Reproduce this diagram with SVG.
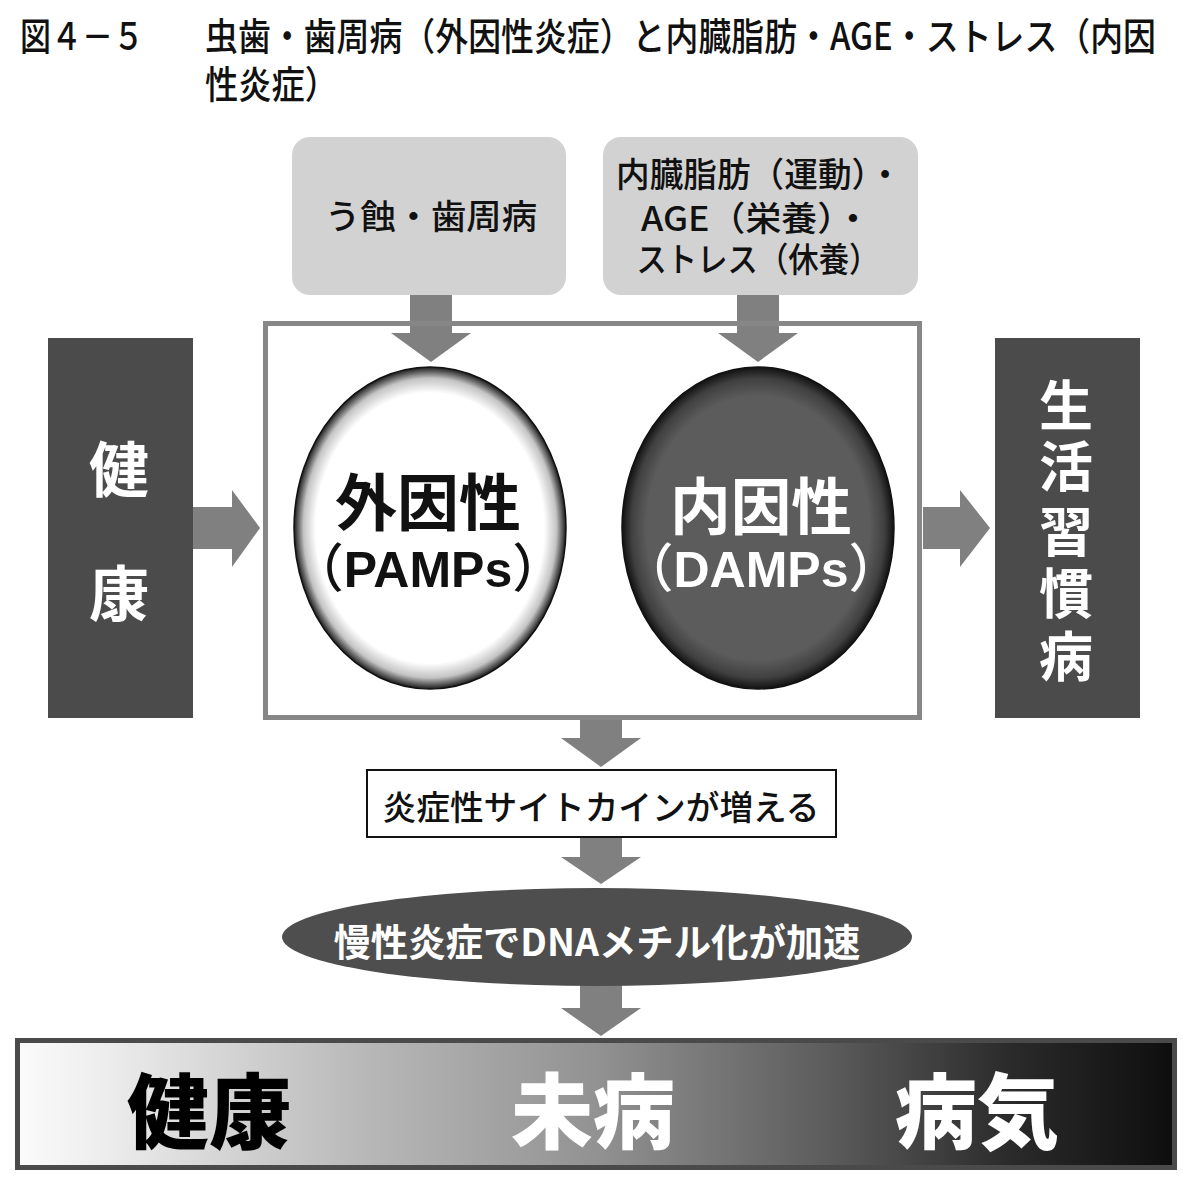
<svg xmlns="http://www.w3.org/2000/svg" width="1192" height="1186" viewBox="0 0 1192 1186">
  <defs>
    <style>
      text { font-family: "Noto Sans CJK JP", "Noto Sans", sans-serif; }
      .title { font-size: 38px; font-weight: 500; fill: #111; }
      .src { font-size: 34px; font-weight: 500; fill: #111; text-anchor: middle; }
      .src-box { fill: #d2d2d2; }
      .arrow { fill: #808080; }
      .side { fill: #4b4b4b; }
      .side-text { font-size: 60px; font-weight: 700; fill: #fff; text-anchor: middle; dominant-baseline: central; }
      .side-text.tall { font-size: 54px; }
      .frame { fill: none; stroke: #878787; stroke-width: 5; }
      .egg-big { font-size: 62px; font-weight: 700; text-anchor: middle; dominant-baseline: central; }
      .egg-sub { font-size: 52px; font-weight: 500; text-anchor: middle; }
      .latin { font-family: "Liberation Sans", Arial, sans-serif; font-weight: 700; font-size: 50px; }
      .step { font-size: 34px; font-weight: 500; fill: #111; text-anchor: middle; dominant-baseline: central; }
      .stage { font-size: 82px; font-weight: 900; text-anchor: middle; dominant-baseline: central; }
    </style>
    <radialGradient id="exoFill" cx="50%" cy="50%" r="50%">
      <stop offset="0" stop-color="#ffffff"/>
      <stop offset="0.84" stop-color="#ffffff"/>
      <stop offset="0.93" stop-color="#c4c4c4"/>
      <stop offset="1" stop-color="#1a1a1a"/>
    </radialGradient>
    <radialGradient id="endoFill" cx="50%" cy="50%" r="50%">
      <stop offset="0" stop-color="#5c5c5c"/>
      <stop offset="0.82" stop-color="#5c5c5c"/>
      <stop offset="0.93" stop-color="#404040"/>
      <stop offset="1" stop-color="#111111"/>
    </radialGradient>
    <linearGradient id="stageFill" x1="0" y1="0" x2="1" y2="0">
      <stop offset="0" stop-color="#fbfbfb"/>
      <stop offset="0.08" stop-color="#ececec"/>
      <stop offset="0.3" stop-color="#b8b8b8"/>
      <stop offset="0.5" stop-color="#929292"/>
      <stop offset="0.7" stop-color="#5c5c5c"/>
      <stop offset="0.86" stop-color="#2a2a2a"/>
      <stop offset="1" stop-color="#0e0e0e"/>
    </linearGradient>
  </defs>

  <rect width="1192" height="1186" fill="#ffffff"/>

  <!-- heading -->
  <g id="heading">
    <text class="title" x="20" y="50" textLength="124" lengthAdjust="spacingAndGlyphs">図４－５</text>
    <text class="title" x="205" y="50" textLength="951" lengthAdjust="spacingAndGlyphs">虫歯・歯周病（外因性炎症）と内臓脂肪・AGE・ストレス（内因</text>
    <text class="title" x="205" y="98" textLength="133" lengthAdjust="spacingAndGlyphs">性炎症）</text>
  </g>

  <!-- connectors -->
  <g id="connectors">
    <polygon class="arrow" points="410,295 452,295 452,333 471,333 431,362 391,333 410,333"/>
    <polygon class="arrow" points="737,295 779,295 779,333 798,333 758,362 718,333 737,333"/>
    <polygon class="arrow" points="193,507 232,507 232,490 260,528 232,567 232,549 193,549"/>
    <polygon class="arrow" points="923,507 960,507 960,490 990,528 960,567 960,549 923,549"/>
    <polygon class="arrow" points="580,720 622,720 622,738 641,738 601,767 561,738 580,738"/>
    <polygon class="arrow" points="580,838 622,838 622,857 641,857 601,884 561,857 580,857"/>
    <polygon class="arrow" points="580,985 622,985 622,1008 641,1008 601,1036 561,1008 580,1008"/>
  </g>

  <!-- sources -->
  <g id="src-caries">
    <rect class="src-box" x="292" y="137" width="274" height="158" rx="18"/>
    <text class="src" x="431" y="229" textLength="212" lengthAdjust="spacingAndGlyphs">う蝕・歯周病</text>
  </g>
  <g id="src-lifestyle">
    <rect class="src-box" x="603" y="137" width="315" height="158" rx="18"/>
    <text class="src" x="759" y="187" textLength="286" lengthAdjust="spacingAndGlyphs">内臓脂肪（運動）・</text>
    <text class="src" x="756" y="231" textLength="230" lengthAdjust="spacingAndGlyphs">AGE（栄養）・</text>
    <text class="src" x="758" y="272" textLength="243" lengthAdjust="spacingAndGlyphs">ストレス（休養）</text>
  </g>

  <!-- inflammation frame -->
  <g id="inflammation">
    <rect class="frame" x="265.5" y="323.5" width="654" height="394"/>
  </g>

  <g id="exogenous">
    <ellipse cx="430" cy="528" rx="136" ry="161" fill="url(#exoFill)" stroke="#111" stroke-width="1.5"/>
    <text class="egg-big" x="428" y="499" fill="#111" textLength="186" lengthAdjust="spacingAndGlyphs">外因性</text>
    <text class="egg-sub" x="428" y="587" fill="#111">（<tspan class="latin">PAMPs</tspan>）</text>
  </g>

  <g id="endogenous">
    <ellipse cx="758" cy="528" rx="136" ry="161" fill="url(#endoFill)" stroke="#111" stroke-width="1.5"/>
    <text class="egg-big" x="761" y="503" fill="#fff" textLength="182" lengthAdjust="spacingAndGlyphs">内因性</text>
    <text class="egg-sub" x="761" y="587" fill="#fff">（<tspan class="latin">DAMPs</tspan>）</text>
  </g>

  <!-- side states -->
  <g id="healthy">
    <rect class="side" x="48" y="338" width="145" height="380"/>
    <text class="side-text" x="119" y="465">健</text>
    <text class="side-text" x="119" y="589">康</text>
  </g>

  <g id="lifestyle-disease">
    <rect class="side" x="995" y="338" width="145" height="380"/>
    <text class="side-text tall" x="1066" y="402">生</text>
    <text class="side-text tall" x="1066" y="463">活</text>
    <text class="side-text tall" x="1066" y="528">習</text>
    <text class="side-text tall" x="1066" y="590">慣</text>
    <text class="side-text tall" x="1066" y="653">病</text>
  </g>

  <!-- downstream steps -->
  <g id="cytokines">
    <rect x="367" y="770" width="469" height="67" fill="#fff" stroke="#111" stroke-width="2"/>
    <text class="step" x="601" y="805" textLength="437" lengthAdjust="spacingAndGlyphs">炎症性サイトカインが増える</text>
  </g>

  <g id="methylation">
    <ellipse cx="597" cy="937" rx="315" ry="49" fill="#4e4e4e"/>
    <text x="597" y="939" fill="#fff" text-anchor="middle" dominant-baseline="central" style="font-size:38px;font-weight:700" textLength="527" lengthAdjust="spacingAndGlyphs">慢性炎症でDNAメチル化が加速</text>
  </g>

  <!-- health spectrum -->
  <g id="spectrum">
    <rect x="17.5" y="1040.5" width="1157" height="127" fill="url(#stageFill)" stroke="#4a4a4a" stroke-width="5"/>
    <text class="stage" x="209" y="1106" fill="#000">健康</text>
    <text class="stage" x="593" y="1106" fill="#fff">未病</text>
    <text class="stage" x="977" y="1106" fill="#fff">病気</text>
  </g>
</svg>
